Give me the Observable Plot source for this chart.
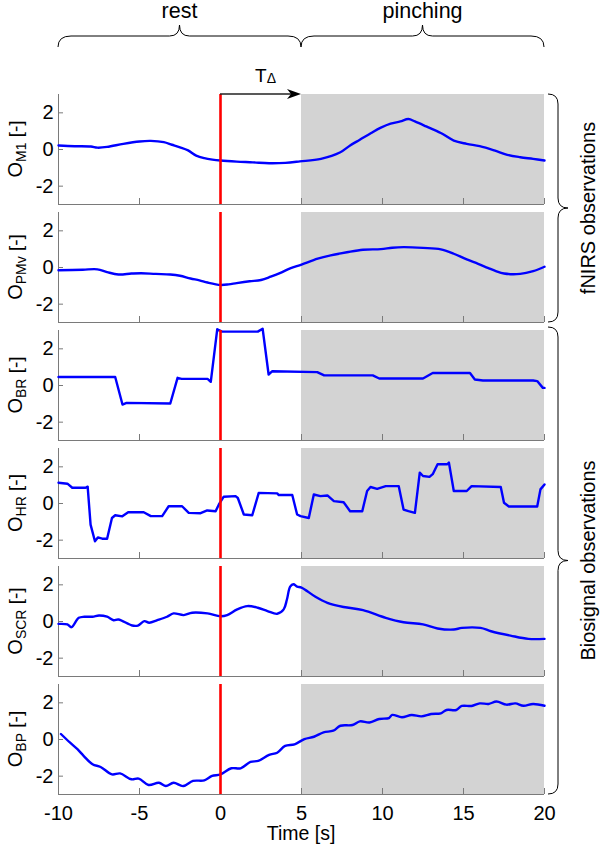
<!DOCTYPE html>
<html><head><meta charset="utf-8">
<script src="https://cdn.jsdelivr.net/npm/d3@7"></script>
<script src="https://cdn.jsdelivr.net/npm/@observablehq/plot@0.6"></script>
<style>
html,body{margin:0;padding:0;background:#fff;}
#chart{position:relative;width:600px;height:845px;font-family:"Liberation Sans",Arial,sans-serif;}
#chart svg{position:absolute;left:0;overflow:visible;}
</style></head><body><div id="chart"></div>
<script>
// ---------- data ----------
const panelNames = ["M1","PMv","BR","HR","SCR","BP"];
const xTicks = [-10,-5,0,5,10,15,20];
const yTicks = [-2,0,2];
const xDomain = [-10,20];
const yDomain = [-3,3];
const onsetTime = 0;
const pinchStart = 5, pinchEnd = 20;
const phaseLabels = ["rest","pinching"];
const groupLabels = ["fNIRS observations","Biosignal observations"];
const xLabel = "Time [s]";
const arrowLabel = ["T","Δ"];

const tM1 = [-10,-9,-8,-7.6,-7,-6,-5,-4.3,-3.5,-3,-2.5,-2,-1.5,-1,-0.5,0,1,2,3,4,4.9,6.2,7.4,8,8.6,9.3,9.9,10.5,11.1,11.6,12,12.7,13.6,14.4,15.2,16,16.9,17.7,18.5,19.3,20];
const vM1 = [0.22,0.18,0.16,0.1,0.14,0.31,0.44,0.47,0.4,0.26,0.12,-0.05,-0.33,-0.47,-0.55,-0.6,-0.66,-0.7,-0.75,-0.73,-0.65,-0.51,-0.15,0.22,0.53,0.9,1.19,1.41,1.53,1.66,1.53,1.26,0.9,0.49,0.31,0.18,-0.05,-0.29,-0.42,-0.51,-0.6];

const tPMv = [-10,-8.5,-7.6,-7,-6.3,-5.5,-4.9,-4,-3.1,-2.5,-1.85,-1.3,-0.8,0,0.5,1,1.8,2.5,3.1,3.7,4.3,5,6,6.8,7.8,8.8,9.9,10.6,11.3,12.5,13.6,14.4,15.2,15.9,16.5,17,17.5,18.5,19.3,20];
const vPMv = [-0.15,-0.12,-0.1,-0.25,-0.38,-0.33,-0.31,-0.35,-0.38,-0.45,-0.6,-0.7,-0.82,-0.95,-0.92,-0.85,-0.75,-0.68,-0.5,-0.29,-0.05,0.16,0.48,0.66,0.83,0.97,1.0,1.08,1.11,1.07,0.99,0.75,0.44,0.2,-0.02,-0.2,-0.33,-0.35,-0.2,0.04];

const tBR = [-10,-6.5,-6.05,-5.8,-3.1,-2.65,-2.4,-0.8,-0.6,-0.2,0.1,2.3,2.6,2.97,3.2,5.97,6.4,9.4,9.8,12.5,13.1,15.4,15.7,16.2,19.3,19.55,19.9,20];
const vBR = [0.46,0.46,-1.04,-0.95,-0.98,0.42,0.36,0.36,0.2,3.07,2.94,2.94,3.1,0.6,0.78,0.73,0.55,0.55,0.38,0.38,0.68,0.68,0.33,0.27,0.27,0.24,-0.13,-0.13];

const tHR = [-10,-9.45,-9.15,-8.33,-8.2,-8.02,-7.75,-7.57,-7.3,-7.0,-6.7,-6.5,-6.06,-5.7,-4.74,-4.3,-3.6,-3.2,-2.37,-1.96,-1.23,-0.82,-0.3,-0.1,0.2,0.93,1.07,1.44,1.96,2.36,3.5,3.6,4.43,4.73,4.94,5.45,5.76,6.17,6.6,7.0,7.6,8.0,8.75,9.05,9.26,9.67,10.2,11.0,11.3,11.6,12.0,12.3,12.5,12.9,13.1,13.4,14.0,14.1,14.4,15.2,15.5,17.3,17.5,17.8,19.55,19.75,20];
const vHR = [1.13,1.08,0.86,0.86,0.92,-1.15,-2.06,-1.85,-1.92,-1.92,-0.79,-0.64,-0.7,-0.48,-0.48,-0.69,-0.69,-0.15,-0.15,-0.51,-0.53,-0.38,-0.42,-0.05,0.37,0.4,0.3,-0.6,-0.64,0.58,0.55,0.46,0.46,-0.6,-0.69,-0.79,0.49,0.4,0.44,0.13,0.07,-0.42,-0.42,0.68,0.9,0.8,0.95,0.95,-0.33,-0.42,-0.51,1.68,1.5,1.45,1.6,2.14,2.14,2.23,0.68,0.68,0.95,0.9,0.04,-0.16,-0.16,0.77,1.04];

const tSCR = [-10,-9.45,-9.2,-8.75,-8.4,-7.9,-7.5,-7.0,-6.6,-6.3,-5.45,-5.1,-4.7,-4.4,-3.9,-3.3,-2.9,-2.27,-1.75,-0.8,0,0.41,1.03,1.65,2.3,2.9,3.5,3.9,4.1,4.3,4.5,4.73,5,5.86,6.6,7.6,8.8,10.2,11.3,12.5,13.4,14.4,14.9,16.05,16.7,17.9,19.0,20];
const vSCR = [-0.13,-0.16,-0.31,0.2,0.26,0.26,0.33,0.26,0.07,0.11,-0.22,-0.22,0.02,-0.07,0.07,0.26,0.44,0.35,0.48,0.44,0.29,0.35,0.66,0.84,0.75,0.57,0.42,0.66,1.2,1.9,2.03,1.9,1.85,1.35,1.02,0.79,0.62,0.2,-0.04,-0.16,-0.38,-0.44,-0.35,-0.35,-0.53,-0.77,-0.95,-0.95];

const tBP = [-9.85,-9.3,-8.83,-8.45,-7.9,-7.4,-6.7,-6.2,-5.5,-5.05,-4.44,-3.8,-3.37,-2.9,-2.3,-1.7,-1.0,-0.52,0,0.67,1.24,1.85,2.33,3.0,3.5,3.99,4.57,5.18,5.77,6.36,6.96,7.4,8.15,8.6,9.2,9.8,10.4,10.6,11.2,11.8,12.4,13.0,13.6,13.95,14.55,14.9,15.5,16.0,16.55,17.04,17.65,18.2,18.7,19.3,20];
const vBP = [0.3,-0.16,-0.53,-0.89,-1.35,-1.5,-1.9,-1.85,-2.17,-2.13,-2.48,-2.36,-2.54,-2.36,-2.54,-2.26,-2.23,-1.99,-1.9,-1.57,-1.57,-1.22,-1.17,-0.84,-0.72,-0.35,-0.26,0.02,0.15,0.39,0.48,0.75,0.79,0.99,0.93,1.12,1.17,1.34,1.21,1.34,1.26,1.39,1.43,1.61,1.61,1.83,1.83,1.97,1.94,2.07,1.9,1.97,1.84,1.94,1.84];

const series = [
  {t: tM1, v: vM1, smooth: true},
  {t: tPMv, v: vPMv, smooth: true},
  {t: tBR, v: vBR, smooth: false},
  {t: tHR, v: vHR, smooth: false},
  {t: tSCR, v: vSCR, smooth: true},
  {t: tBP, v: vBP, smooth: true}
];

// ---------- layout / style ----------
const FONT = "'Liberation Sans', Arial, sans-serif";
const axisColor = "#7a7a7a";
const tickFont = 20;
const firstTop = 94, panelStep = 118, panelH = 110, mTop = 6;
const container = document.getElementById("chart");

const plots = series.map((s, i) => {
  const last = i === series.length - 1;
  const mBottom = last ? 51 : panelStep - panelH - mTop;
  const data = s.t.map((t, j) => ({t, v: s.v[j]}));
  const shade = [{x1: pinchStart, x2: pinchEnd, y1: yDomain[0], y2: yDomain[1]}];
  const p = Plot.plot({
    width: 600,
    height: mTop + panelH + mBottom,
    marginTop: mTop, marginBottom: mBottom, marginLeft: 58, marginRight: 56,
    x: {domain: xDomain},
    y: {domain: yDomain},
    style: {fontFamily: FONT, fontSize: tickFont + "px", color: "#000", background: "transparent", overflow: "visible"},
    marks: [
      Plot.rect(shade, {x1: "x1", x2: "x2", y1: "y1", y2: "y2", fill: "#d3d3d3"}),
      Plot.ruleX([xDomain[0]], {stroke: axisColor, strokeWidth: 1}),
      Plot.ruleY([yDomain[0]], {stroke: axisColor, strokeWidth: 1}),
      Plot.axisX({ticks: xTicks, tickSize: -6, fill: "none", stroke: axisColor, label: null}),
      Plot.axisY({ticks: yTicks, tickSize: -5, fill: "none", stroke: axisColor, label: null}),
      Plot.line(data, {x: "t", y: "v", stroke: "#0000ff", strokeWidth: 2.4, strokeLinejoin: "round", curve: s.smooth ? "catmull-rom" : "linear"}),
      Plot.ruleX([onsetTime], {stroke: "#ff0000", strokeWidth: 2.6}),
      Plot.axisY({ticks: yTicks, tickSize: 0, tickPadding: 5, label: null, tickFormat: d => String(d), fontSize: tickFont, fill: "#000"}),
      ...(last ? [Plot.axisX({ticks: xTicks, tickSize: 0, tickPadding: 11, label: null, tickFormat: d => String(d), fontSize: tickFont, fill: "#000"})] : [])
    ]
  });
  p.style.position = "absolute";
  p.style.left = "0px";
  p.style.top = (firstTop + panelStep * i - mTop) + "px";
  container.appendChild(p);
  return p;
});

// ---------- overlay annotations (positions from the plots' scales) ----------
const sx = plots[0].scale("x");
const xPx = v => sx.apply(v);
const svgTop = i => firstTop + panelStep * i - mTop;
const yPx = (i, v) => svgTop(i) + plots[i].scale("y").apply(v);

const ov = d3.select(container).append("svg")
  .attr("width", 600).attr("height", 845)
  .style("position", "absolute").style("left", "0px").style("top", "0px")
  .style("font-family", FONT);

function brace(p, u0, u1, base, out, h1, h2, r1, r2) {
  const um = (u0 + u1) / 2, vs = base + out * h1, vt = base + out * (h1 + h2);
  const P = (u, v) => p(u, v).join(",");
  return `M${P(u0, base)}Q${P(u0, vs)} ${P(u0 + r1, vs)}L${P(um - r2, vs)}Q${P(um, vs)} ${P(um, vt)}` +
         `M${P(u1, base)}Q${P(u1, vs)} ${P(u1 - r1, vs)}L${P(um + r2, vs)}Q${P(um, vs)} ${P(um, vt)}`;
}
const horiz = (u, v) => [u, v];
const vert = (u, v) => [v, u];

// top braces
const phases = [[xDomain[0], pinchStart], [pinchStart, pinchEnd]];
phases.forEach(([a, b], k) => {
  ov.append("path").attr("d", brace(horiz, xPx(a), xPx(b), 47, -1, 11, 11, 13, 10))
    .attr("fill", "none").attr("stroke", "#000").attr("stroke-width", 1);
  ov.append("text").attr("x", xPx((a + b) / 2)).attr("y", 18)
    .attr("text-anchor", "middle").attr("font-size", 21.5).text(phaseLabels[k]);
});

// arrow T_delta
const ay = yPx(0, yDomain[1]);
ov.append("line").attr("x1", xPx(onsetTime)).attr("x2", xPx(pinchStart) - 8)
  .attr("y1", ay).attr("y2", ay).attr("stroke", "#222").attr("stroke-width", 1.4);
const tip = xPx(pinchStart);
ov.append("path").attr("d", `M${tip},${ay}L${tip - 14},${ay - 5}L${tip - 10},${ay}L${tip - 14},${ay + 5}Z`).attr("fill", "#000");
const tl = ov.append("text").attr("x", xPx((onsetTime + pinchStart) / 2) + 5).attr("y", 82).attr("text-anchor", "middle");
tl.append("tspan").attr("font-size", 19).text(arrowLabel[0]);
tl.append("tspan").attr("font-size", 14).attr("dy", 1).text(arrowLabel[1]);

// right braces
const groups = [[0, 1], [2, 5]];
groups.forEach(([a, b], k) => {
  const y0 = yPx(a, yDomain[1]) - (k ? 3 : 0), y1 = yPx(b, yDomain[0]);
  const bx = xPx(xDomain[1]) + 4;
  ov.append("path").attr("d", brace(vert, y0, y1, bx, 1, 10, 10, 10, 10))
    .attr("fill", "none").attr("stroke", "#000").attr("stroke-width", 1);
  const cy = (y0 + y1) / 2;
  ov.append("text").attr("transform", `translate(595,${cy}) rotate(-90)`)
    .attr("text-anchor", "middle").attr("font-size", 20).text(groupLabels[k]);
});

// y labels
panelNames.forEach((name, i) => {
  const cy = (yPx(i, yDomain[0]) + yPx(i, yDomain[1])) / 2;
  const t = ov.append("text").attr("transform", `translate(22,${cy}) rotate(-90)`).attr("text-anchor", "middle");
  t.append("tspan").attr("font-size", 20).text("O");
  t.append("tspan").attr("font-size", 14).attr("dy", 4).text(name);
  t.append("tspan").attr("font-size", 19).attr("dy", -4).text(" [-]");
});

// x label
ov.append("text").attr("x", xPx((xDomain[0] + xDomain[1]) / 2)).attr("y", 840)
  .attr("text-anchor", "middle").attr("font-size", 19.5).text(xLabel);
</script></body></html>
